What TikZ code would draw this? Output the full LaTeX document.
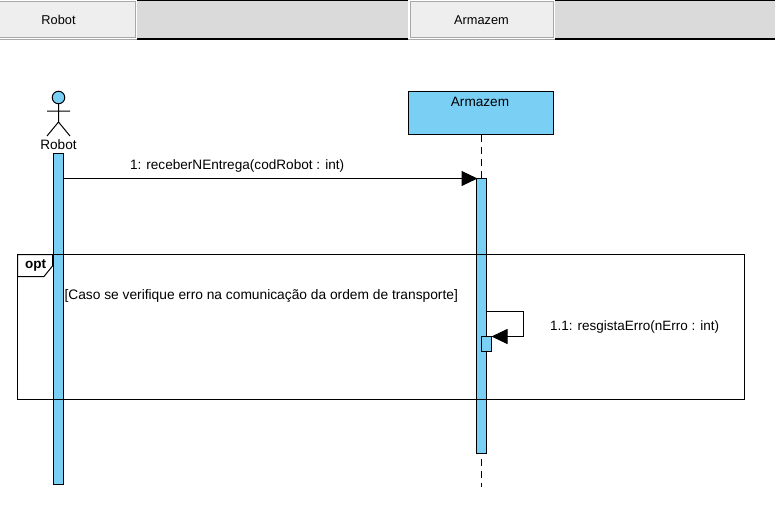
\documentclass[tikz,border=0pt]{standalone}
\usepackage{fontspec}
\usetikzlibrary{arrows.meta}
\setmainfont{Liberation Sans}
\definecolor{fillblue}{HTML}{7ACFF5}
\definecolor{tabgray}{HTML}{DADADA}
\definecolor{tabfill}{HTML}{EEEEEE}
\definecolor{tabedge}{HTML}{A8A8A8}
\begin{document}
\begin{tikzpicture}[x=1pt,y=-1pt,
  every node/.style={font=\fontsize{13.6}{15}\selectfont,inner sep=0pt,outer sep=0pt},
  ln/.style={draw=black,line width=1pt},
  bluebox/.style={ln,fill=fillblue,anchor=north west},
  tabbox/.style={draw=tabedge,line width=1pt,fill=tabfill,anchor=north west},
  tablabel/.style={font=\fontsize{12.8}{15}\selectfont},
  tip/.style={-{Triangle[length=16pt,width=15pt,fill=black]},ln},
  lifeline/.style={ln,dash pattern=on 7pt off 5pt}]
\useasboundingbox (0,0) rectangle (775,511);
\fill[white] (0,0) rectangle (775,511);
% tab bar
\fill[tabgray] (0,0) rectangle (775,38);
\draw[black,line width=1pt] (0,0.5) -- (775,0.5);
\draw[black,line width=2pt] (0,39) -- (775,39);
\fill[white] (0,0) rectangle (137,40.5);
\fill[white] (408,0) rectangle (555,40.5);
\draw[tabedge,line width=1pt] (0,39.5) -- (137,39.5) (408,39.5) -- (555,39.5);
\node[tabbox,minimum width=136pt,minimum height=36pt] (tabR) at (-1,1.5) {};
\node[tablabel] at (58.5,20) {Robot};
\node[tabbox,minimum width=143pt,minimum height=36pt] (tabA) at (410.5,1.5) {};
\node[tablabel] at (481.5,20) {Armazem};
% Armazem lifeline
\node[bluebox,minimum width=145pt,minimum height=43pt] (arm) at (408.5,91.5) {};
\node at (480,101.5) {Armazem};
\coordinate (armEnd) at (481.5,487);
\draw[lifeline] (arm.south -| armEnd) -- (armEnd);
% actor
\node[draw=black,line width=1pt,fill=fillblue,circle,minimum size=12.5pt] (head) at (58.5,97.5) {};
\coordinate (hip) at (58.5,122);
\coordinate (armL) at (47,111);
\coordinate (armR) at (70,111);
\coordinate (legL) at (47,136);
\coordinate (legR) at (70,136);
\draw[ln] (head) -- (hip) (armL) -- (armR) (legL) -- (hip) -- (legR);
\node (actorlabel) at (58.5,145) {Robot};
% activations
\node[bluebox,minimum width=10pt,minimum height=331pt] (barR) at (53.5,153.5) {};
\node[bluebox,minimum width=10pt,minimum height=275pt] (barA) at (476.5,178.5) {};
\node[bluebox,minimum width=10pt,minimum height=15pt] (barS) at (481.5,336.5) {};
% message 1
\draw[tip] (barR.east |- barA.north) -- ([xshift=1pt]barA.north west);
\node[anchor=base west] (m1) at (130,169) {1: receberNEntrega(codRobot : int)};
% self message
\coordinate (selfA) at (523.5,311.5);
\coordinate (selfB) at (523.5,336.5);
\draw[ln] (barA.east |- selfA) -- (selfA) -- (selfB);
\draw[tip] (selfB) -- (barS.north east);
\node[anchor=base west,font=\fontsize{13.5}{15}\selectfont] (m2) at (550,330) {1.1: resgistaErro(nErro : int)};
% opt frame
\node[draw=black,line width=1pt,anchor=north west,minimum width=727pt,minimum height=145pt] (frame) at (17.5,254.5) {};
\coordinate (p1) at (52.5,254.5);
\coordinate (p2) at (52.5,266);
\coordinate (p3) at (44,276.5);
\coordinate (p4) at (17.5,276.5);
\filldraw[draw=black,fill=white,line width=1pt] (frame.north west) -- (p1) -- (p2) -- (p3) -- (p4) -- cycle;
\node[font=\fontsize{13.5}{15}\selectfont\bfseries] (optl) at (35.5,265.5) {opt};
\node[anchor=base west,fill=white,font=\fontsize{13.77}{15}\selectfont,text depth=3.5pt,text height=14pt,inner xsep=1pt] (guard) at (63.5,299) {[Caso se verifique erro na comunicação da ordem de transporte]};
\end{tikzpicture}
\end{document}
